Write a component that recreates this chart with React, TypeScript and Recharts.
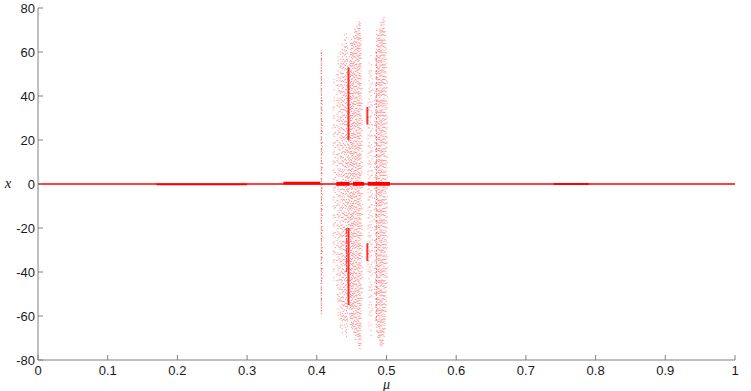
import React from "react";
import { ComposedChart, Line, Area, XAxis, YAxis, Label } from "recharts";

// scattered iterates: one column per mu, upper / lower extent of the cloud
const colMu = [
  0.4065, 0.408, 0.4235, 0.425, 0.4265, 0.429, 0.4305, 0.432, 0.4335, 0.435,
  0.4365, 0.438, 0.4395, 0.441, 0.4425, 0.444, 0.4455, 0.447, 0.4485, 0.45,
  0.4515, 0.453, 0.4545, 0.456, 0.4575, 0.459, 0.4605, 0.462, 0.4635, 0.465,
  0.4735, 0.475, 0.4765, 0.478, 0.4795, 0.483, 0.4845, 0.486, 0.4875, 0.489,
  0.4905, 0.492, 0.4935, 0.495, 0.4965, 0.498, 0.4995, 0.501,
];
const colTop = [
  61, 40, 38, 49, 30, 50, 58, 45, 62, 55,
  64, 60, 68, 66, 69, 62, 53, 58, 64, 66,
  64, 68, 71, 70, 72, 71, 74, 75, 68, 45,
  38, 58, 52, 59, 48, 45, 62, 71, 68, 70,
  72, 74, 73, 75, 76, 70, 62, 48,
];
const colBottom = [
  -59, -45, -40, -44, -35, -52, -60, -55, -66, -62,
  -69, -64, -66, -68, -70, -65, -55, -60, -65, -66,
  -67, -68, -70, -71, -70, -72, -74, -76, -73, -55,
  -40, -66, -60, -71, -58, -50, -64, -68, -70, -72,
  -73, -75, -74, -73, -70, -66, -58, -45,
];
// 0 sparse, 1 medium, 2 dense
const colWeight = [
  2, 0, 0, 0, 0, 0, 1, 0, 1, 0,
  1, 1, 1, 1, 1, 1, 2, 1, 2, 2,
  2, 2, 2, 2, 2, 2, 2, 2, 1, 0,
  0, 0, 0, 0, 0, 0, 1, 2, 2, 2,
  2, 2, 2, 2, 2, 1, 1, 0,
];

// dense runs inside the cloud
const runMu = [0.4065, 0.4455, 0.4455, 0.4425, 0.4725, 0.4725, 0.4855];
const runFrom = [60, 53, -20, -20, 35, -27, 60];
const runTo = [-58, 20, -55, -40, 27, -35, -62];
const runWeight = [0, 2, 2, 1, 2, 2, 0];

// the branch near x = 0
const bandStart = [0, 0.17, 0.352, 0.428, 0.452, 0.473, 0.74];
const bandEnd = [1, 0.3, 0.405, 0.447, 0.468, 0.505, 0.79];
const bandLo = [-0.35, -0.6, -0.2, -0.8, -0.8, -0.8, -0.5];
const bandHi = [0.35, 0.2, 1.0, 0.9, 0.9, 0.9, 0.4];

const xTicks = [0, 0.1, 0.2, 0.3, 0.4, 0.5, 0.6, 0.7, 0.8, 0.9, 1];
const yTicks = [-80, -60, -40, -20, 0, 20, 40, 60, 80];

const axisGray = "#808080";
const tickFont = { fontFamily: "Liberation Sans, Arial, sans-serif", fontSize: 13, fill: "#1a1a1a" };

const dotPatterns = [
  ["1 6 1 3 1 9", "1 4 1 8 1 5", "1 7 1 2 1 6", "1 5 1 10 1 3", "1 3 1 6 1 11", "1 9 1 4", "1 6 1 7 1 2"],
  ["1 3 1 5 1 2", "1 2 1 4 1 6", "1 4 1 2 1 3", "1 5 1 1 1 4", "1 2 1 6 1 3", "1 3 1 3 1 5", "1 4 1 5 1 1"],
  ["1 2 1 4 1 1", "1 3 1 1 1 2", "1 1 1 3 1 4", "1 2 1 2 1 5", "1 4 1 1 1 2", "1 1 1 5 1 2", "1 3 1 2 1 3"],
];
const dotOpacity = [0.45, 0.5, 0.55];
const runStyle = [
  { w: 1, o: 0.45, dash: "2 1 1 2" },
  { w: 1.2, o: 0.7, dash: "6 1 2 1" },
  { w: 2, o: 0.8, dash: undefined },
];

const fmt = (v: number) => (v === 0 || v === 1 ? String(v) : v.toFixed(1));

const BottomTick = (p: any) => (
  <g>
    <line x1={p.x} y1={p.y} x2={p.x} y2={p.y - 5} stroke={axisGray} />
    <text x={p.x} y={p.y + 15} textAnchor="middle" {...tickFont}>
      {fmt(p.payload.value)}
    </text>
  </g>
);
const TopTick = (p: any) => (
  <line x1={p.x} y1={p.y} x2={p.x} y2={p.y + 5} stroke={axisGray} />
);
const LeftTick = (p: any) => (
  <g>
    <line x1={p.x} y1={p.y} x2={p.x + 5} y2={p.y} stroke={axisGray} />
    <text x={p.x - 3} y={p.y + 4.5} textAnchor="end" {...tickFont}>
      {p.payload.value}
    </text>
  </g>
);
const RightTick = (p: any) => (
  <line x1={p.x} y1={p.y} x2={p.x - 5} y2={p.y} stroke={axisGray} />
);

export default function App() {
  return (
    <div style={{ position: "absolute", left: 0, top: 0, background: "#fff" }}>
      <ComposedChart width={751} height={391} margin={{ top: 8, right: 16, bottom: 0, left: 0 }}>
        <XAxis
          dataKey="mu"
          type="number"
          domain={[0, 1]}
          ticks={xTicks}
          allowDataOverflow
          height={31}
          tickSize={0}
          tickMargin={0}
          tickLine={false}
          axisLine={{ stroke: axisGray }}
          tick={<BottomTick />}
          interval={0}
        >
          <Label
            content={(props: any) => (
              <text
                x={props.viewBox.x + props.viewBox.width / 2}
                y={389}
                textAnchor="middle"
                fontFamily="Liberation Serif, Times New Roman, serif"
                fontStyle="italic"
                fontSize={14}
                fill="#1a1a1a"
              >
                μ
              </text>
            )}
          />
        </XAxis>
        <XAxis
          xAxisId="top"
          orientation="top"
          type="number"
          domain={[0, 1]}
          ticks={xTicks}
          height={0}
          tickSize={0}
          tickMargin={0}
          tickLine={false}
          axisLine={{ stroke: axisGray }}
          tick={<TopTick />}
          interval={0}
        />
        <YAxis
          type="number"
          domain={[-80, 80]}
          ticks={yTicks}
          allowDataOverflow
          width={38}
          tickSize={0}
          tickMargin={0}
          tickLine={false}
          axisLine={{ stroke: axisGray }}
          tick={<LeftTick />}
          interval={0}
        >
          <Label
            content={(props: any) => (
              <text
                x={8}
                y={props.viewBox.y + props.viewBox.height / 2 + 4}
                textAnchor="middle"
                fontFamily="Liberation Serif, Times New Roman, serif"
                fontStyle="italic"
                fontSize={15}
                fill="#1a1a1a"
              >
                x
              </text>
            )}
          />
        </YAxis>
        <YAxis
          yAxisId="right"
          orientation="right"
          type="number"
          domain={[-80, 80]}
          ticks={yTicks}
          width={0}
          tickSize={0}
          tickMargin={0}
          tickLine={false}
          axisLine={{ stroke: axisGray }}
          tick={<RightTick />}
          interval={0}
        />

        {colMu.map((mu, i) => (
          <Line
            key={"c" + i}
            data={[
              { mu, x: colTop[i] },
              { mu, x: colBottom[i] },
            ]}
            dataKey="x"
            type="linear"
            stroke="#ff0000"
            strokeWidth={1}
            strokeOpacity={dotOpacity[colWeight[i]]}
            strokeDasharray={dotPatterns[colWeight[i]][(i * 3) % 7]}
            strokeDashoffset={(i * 13) % 17}
            dot={false}
            activeDot={false}
            legendType="none"
            isAnimationActive={false}
          />
        ))}

        {runMu.map((mu, i) => (
          <Line
            key={"r" + i}
            data={[
              { mu, x: runFrom[i] },
              { mu, x: runTo[i] },
            ]}
            dataKey="x"
            type="linear"
            stroke="#ff0000"
            strokeWidth={runStyle[runWeight[i]].w}
            strokeOpacity={runStyle[runWeight[i]].o}
            strokeDasharray={runStyle[runWeight[i]].dash}
            dot={false}
            activeDot={false}
            legendType="none"
            isAnimationActive={false}
          />
        ))}

        {bandStart.map((s, i) => (
          <Area
            key={"b" + i}
            data={[
              { mu: s, r: [bandLo[i], bandHi[i]] },
              { mu: bandEnd[i], r: [bandLo[i], bandHi[i]] },
            ]}
            dataKey="r"
            type="linear"
            stroke="none"
            fill="#ff0000"
            fillOpacity={1}
            dot={false}
            activeDot={false}
            legendType="none"
            isAnimationActive={false}
          />
        ))}
      </ComposedChart>
    </div>
  );
}
